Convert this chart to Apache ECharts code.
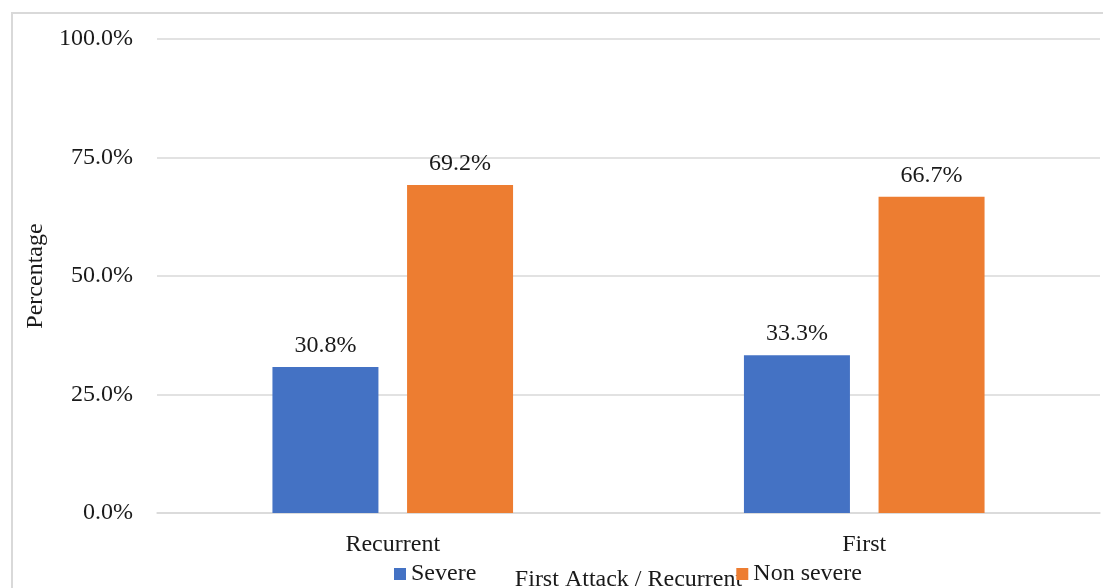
<!DOCTYPE html>
<html>
<head>
<meta charset="utf-8">
<script src="https://cdn.jsdelivr.net/npm/echarts@6/dist/echarts.min.js"></script>
<style>
  html, body { margin: 0; padding: 0; background: #fff; overflow: hidden; }
  #chart { width: 1103px; height: 588px; }
</style>
</head>
<body>
<div id="chart"></div>
<script>
// Severity of attack by first attack vs recurrent
const categories = ['Recurrent', 'First'];
const severe = [30.8, 33.3];
const nonSevere = [69.2, 66.7];
const seriesNames = ['Severe', 'Non severe'];
const yTicks = [0, 25, 50, 75, 100];

const FONT = '"Liberation Serif", "Times New Roman", serif';
const TEXT = '#1a1a1a';

const chart = echarts.init(document.getElementById('chart'), null, { renderer: 'canvas' });

const labelStyle = {
  show: true,
  position: 'top',
  distance: 9,
  formatter: p => p.value.toFixed(1) + '%',
  fontFamily: FONT,
  fontSize: 24,
  color: TEXT
};

chart.setOption({
  backgroundColor: '#fff',
  animation: false,
  graphic: [{
    type: 'rect',
    shape: { x: 12, y: 13, width: 1100, height: 600 },
    style: { fill: 'none', stroke: '#d9d9d9', lineWidth: 2 },
    silent: true
  }],
  grid: { left: 157, right: 3, top: 39, bottom: 75, containLabel: false, outerBoundsMode: 'none' },
  legend: {
    data: seriesNames,
    left: 394,
    top: 562,
    padding: 0,
    icon: 'rect',
    itemWidth: 12,
    itemHeight: 12,
    itemGap: 260,
    textStyle: { fontFamily: FONT, fontSize: 24, color: TEXT }
  },
  xAxis: {
    type: 'category',
    data: categories,
    name: 'First Attack / Recurrent',
    nameLocation: 'middle',
    nameGap: 55,
    nameTextStyle: { fontFamily: FONT, fontSize: 24, color: TEXT },
    axisLine: { lineStyle: { color: '#d9d9d9', width: 1.5 } },
    axisTick: { show: false },
    axisLabel: { fontFamily: FONT, fontSize: 24, color: TEXT, margin: 20 }
  },
  yAxis: {
    type: 'value',
    min: yTicks[0],
    max: yTicks[yTicks.length - 1],
    interval: yTicks[1] - yTicks[0],
    name: 'Percentage',
    nameLocation: 'middle',
    nameGap: 103,
    nameRotate: 90,
    nameTextStyle: { fontFamily: FONT, fontSize: 24, color: TEXT },
    axisLine: { show: false },
    axisTick: { show: false },
    splitLine: { lineStyle: { color: '#d9d9d9', width: 1.5 } },
    axisLabel: {
      fontFamily: FONT, fontSize: 24, color: TEXT, margin: 24,
      formatter: v => v.toFixed(1) + '%'
    }
  },
  series: [
    {
      name: seriesNames[0],
      type: 'bar',
      data: severe,
      barWidth: 106,
      barGap: '27%',
      itemStyle: { color: '#4472C4' },
      label: labelStyle
    },
    {
      name: seriesNames[1],
      type: 'bar',
      data: nonSevere,
      barWidth: 106,
      itemStyle: { color: '#ED7D31' },
      label: labelStyle
    }
  ]
});
</script>
</body>
</html>
